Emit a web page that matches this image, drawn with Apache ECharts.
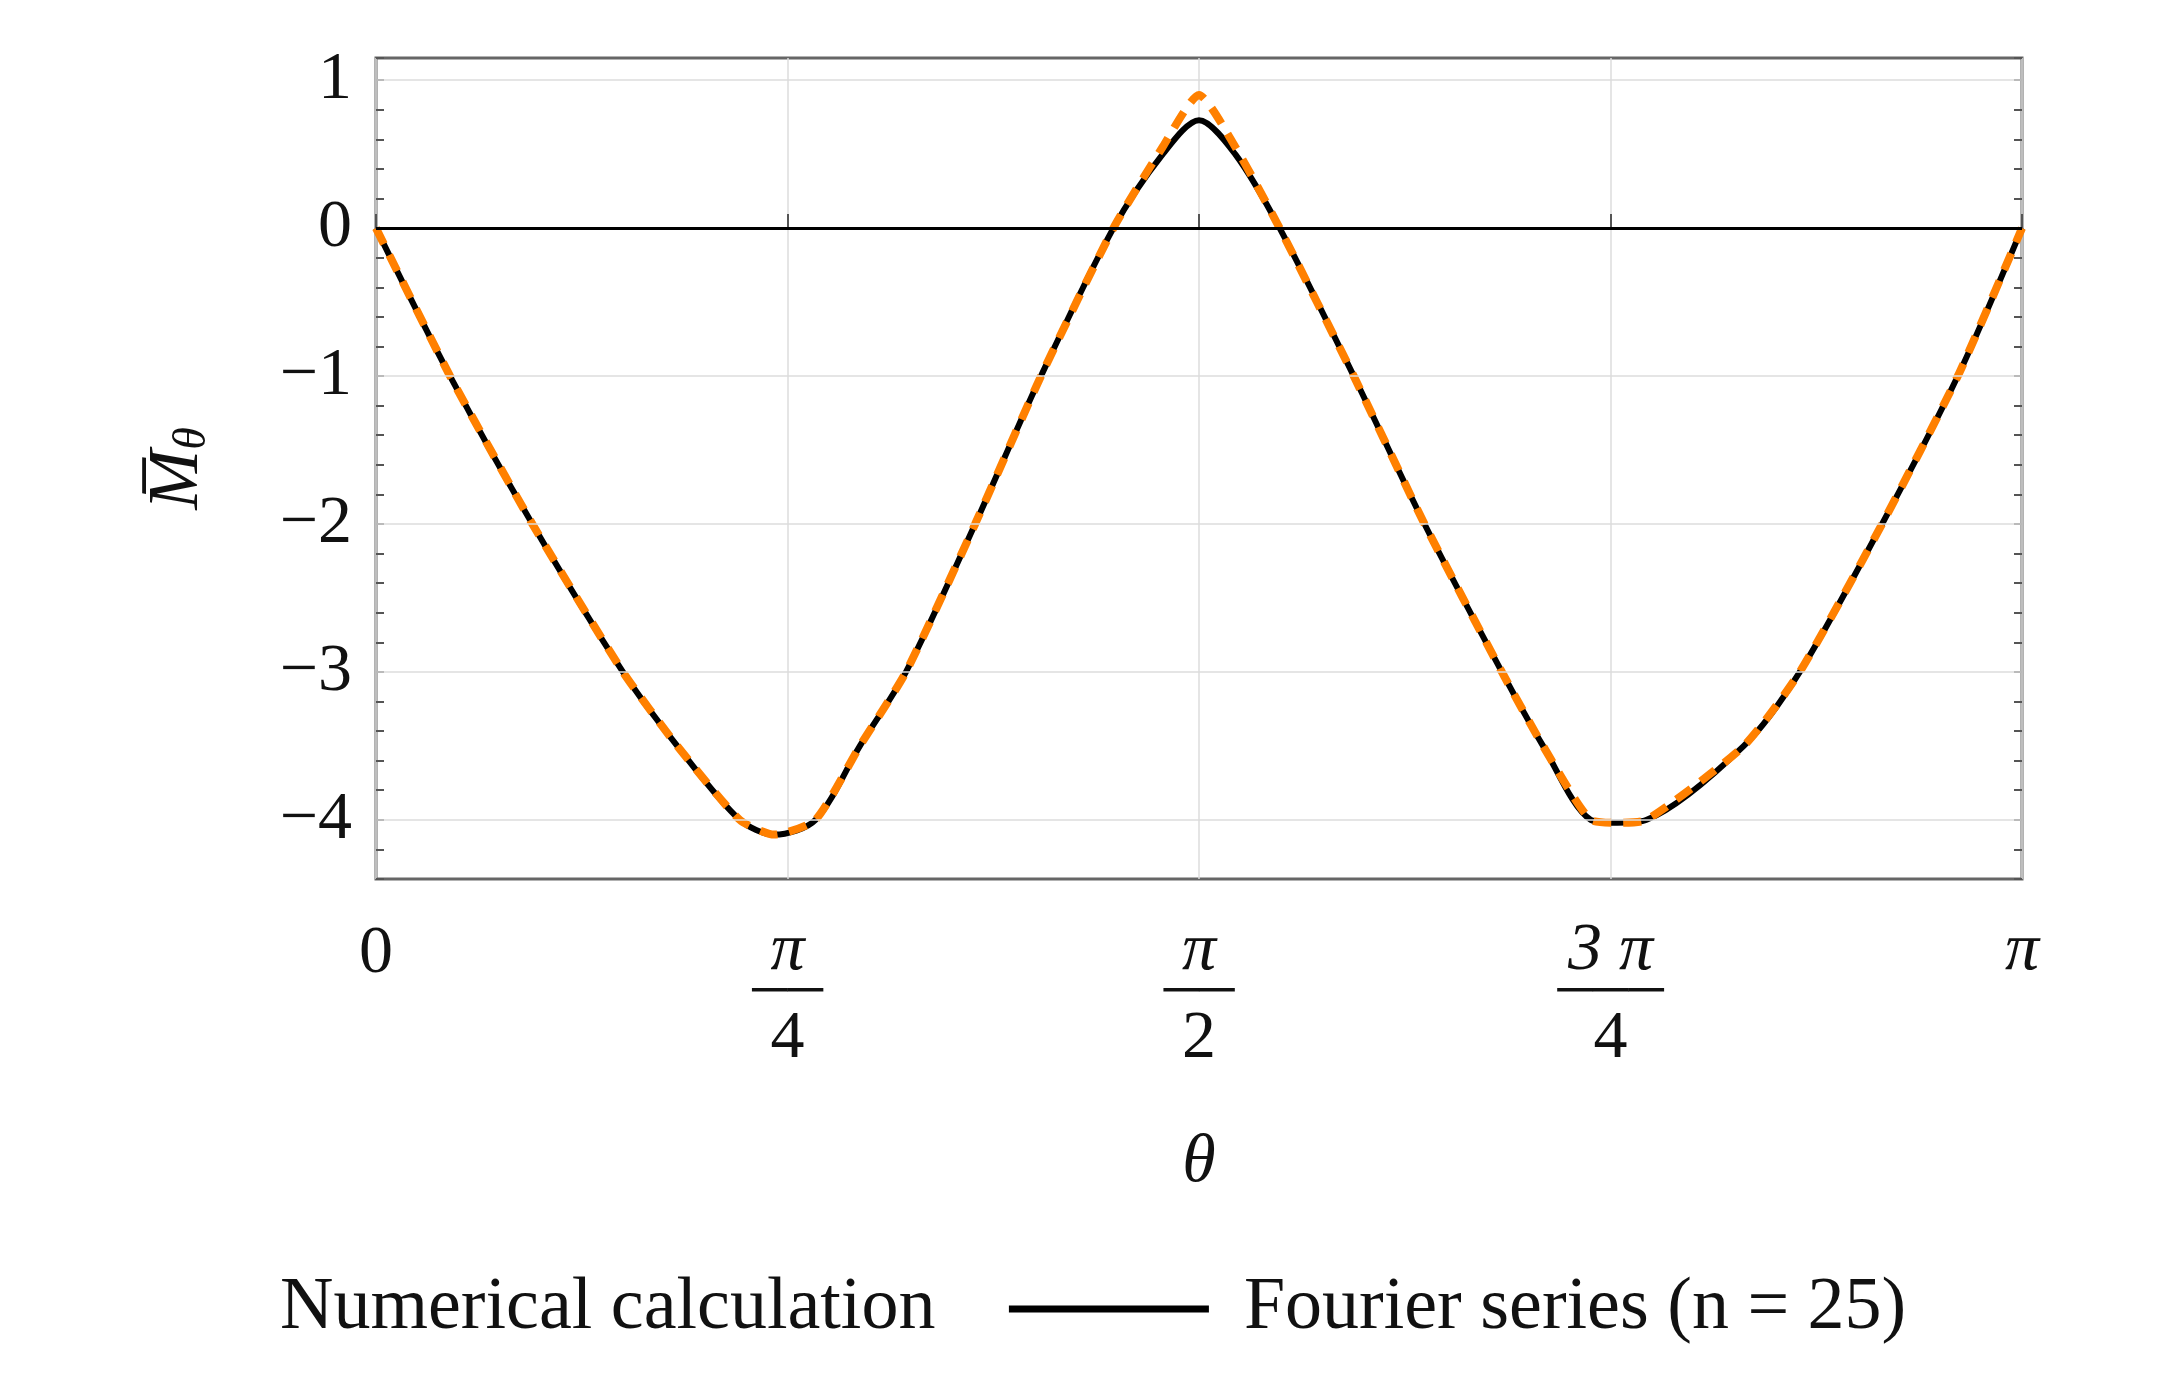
<!DOCTYPE html>
<html><head><meta charset="utf-8">
<script src="https://cdn.jsdelivr.net/npm/echarts@6/dist/echarts.min.js"></script>
<style>html,body{margin:0;background:#fff}#main{width:2159px;height:1391px}</style>
</head><body><div id="main"></div>
<script>
// theta as fraction of pi
const thetaFrac = [0, 0.045, 0.095, 0.15, 0.183, 0.221, 0.242, 0.267, 0.294, 0.322, 0.364, 0.404, 0.448, 0.478, 0.5, 0.522, 0.549, 0.594, 0.637, 0.684, 0.709, 0.738, 0.754, 0.772, 0.831, 0.865, 0.915, 0.961, 1];
const fourier = [0, -1, -2, -3, -3.5, -4, -4.1, -4, -3.5, -3, -2, -1, 0, 0.5, 0.73, 0.5, 0, -1, -2, -3, -3.5, -4, -4.02, -4, -3.5, -3, -2, -1, 0];
const numerical = [0, -1, -2, -3, -3.5, -4, -4.1, -4, -3.5, -3, -2, -1, 0, 0.55, 0.9, 0.55, 0, -1, -2, -3, -3.5, -4, -4.02, -4, -3.5, -3, -2, -1, 0];
const yTicks = [-4, -3, -2, -1, 1];

const font = 'Liberation Serif';
const pair = arr => thetaFrac.map((f, i) => [f * Math.PI, arr[i]]);
const xLabel = v => {
  const k = Math.round(v / (Math.PI / 4));
  return ['0', '{n|π}\n{l|──}\n{d|4}', '{n|π}\n{l|──}\n{d|2}', '{n|3 π}\n{l|───}\n{d|4}', '{n|π}'][k];
};
const yAxisBase = {
  type: 'value', min: -4.4, max: 1.15, interval: 0.2,
  axisLine: { show: false },
  axisTick: { inside: true, length: 8, lineStyle: { color: '#555', width: 2 } },
  splitLine: { show: false }
};
const myChart = echarts.init(document.getElementById('main'));
myChart.setOption({
  animation: false,
  grid: { left: 376, right: 137, top: 58, bottom: 512, show: true, borderColor: '#666', borderWidth: 3 },
  xAxis: {
    type: 'value', min: 0, max: Math.PI, interval: Math.PI / 4,
    name: 'θ', nameLocation: 'middle', nameGap: 250,
    nameTextStyle: { fontFamily: font, fontStyle: 'italic', fontSize: 68, color: '#111' },
    axisLine: { show: false },
    axisTick: { inside: true, length: 14, lineStyle: { color: '#555', width: 2 } },
    splitLine: { show: true, lineStyle: { color: '#ddd', width: 1.5 } },
    axisLabel: {
      formatter: xLabel, margin: 40, fontFamily: font, fontSize: 68, color: '#111',
      verticalAlign: 'top', lineHeight: 70,
      rich: {
        n: { fontFamily: font, fontSize: 68, fontStyle: 'italic', lineHeight: 64, color: '#111' },
        l: { fontFamily: font, fontSize: 50, fontWeight: 'bold', lineHeight: 18, color: '#111' },
        d: { fontFamily: font, fontSize: 68, lineHeight: 76, color: '#111' }
      }
    }
  },
  yAxis: [
    Object.assign({}, yAxisBase, {
      name: '{m|M\u0305}{s|θ}', nameLocation: 'middle', nameGap: 160, nameRotate: 90,
      nameTextStyle: { rich: {
        m: { fontFamily: font, fontStyle: 'italic', fontSize: 72, color: '#111' },
        s: { fontFamily: font, fontStyle: 'italic', fontSize: 46, color: '#111', padding: [30, 0, 0, 0] }
      } },
      axisLabel: { fontFamily: font, fontSize: 68, color: '#111', margin: 24,
        formatter: v => {
          const r = Math.round(v * 10) / 10;
          if (Math.abs(r - Math.round(r)) > 1e-6) return '';
          return r < 0 ? '\u2212' + (-r) : String(Math.round(r));
        } }
    }),
    Object.assign({}, yAxisBase, { position: 'right', axisLabel: { show: false } })
  ],
  legend: {
    bottom: 40, left: 40, itemWidth: 200, itemHeight: 6, itemGap: 70,
    textStyle: { fontFamily: font, fontSize: 74, color: '#111', padding: [0, 0, 0, 30] },
    data: [
      { name: 'Numerical calculation', icon: 'none' , lineStyle: { width: 8, type: [18, 12], color: '#ff8000' } },
      { name: 'Fourier series (n = 25)', lineStyle: { width: 7, color: '#000' } }
    ]
  },
  series: [
    {
      name: 'Fourier series (n = 25)', type: 'line', smooth: 0.3, symbol: 'none', data: pair(fourier),
      lineStyle: { color: '#000', width: 6 }, itemStyle: { color: '#000' }, z: 2,
      markLine: { silent: true, symbol: 'none', label: { show: false }, data: [
        { yAxis: 0, lineStyle: { color: '#000', width: 3, type: 'solid' } }
      ].concat(yTicks.map(v => ({ yAxis: v, lineStyle: { color: '#ddd', width: 1.5, type: 'solid' } }))) }
    },
    {
      name: 'Numerical calculation', type: 'line', smooth: 0.2, symbol: 'none', data: pair(numerical),
      lineStyle: { color: '#ff8000', width: 8, type: [18, 12] }, itemStyle: { color: '#ff8000' }, z: 3
    }
  ]
});
</script></body></html>
